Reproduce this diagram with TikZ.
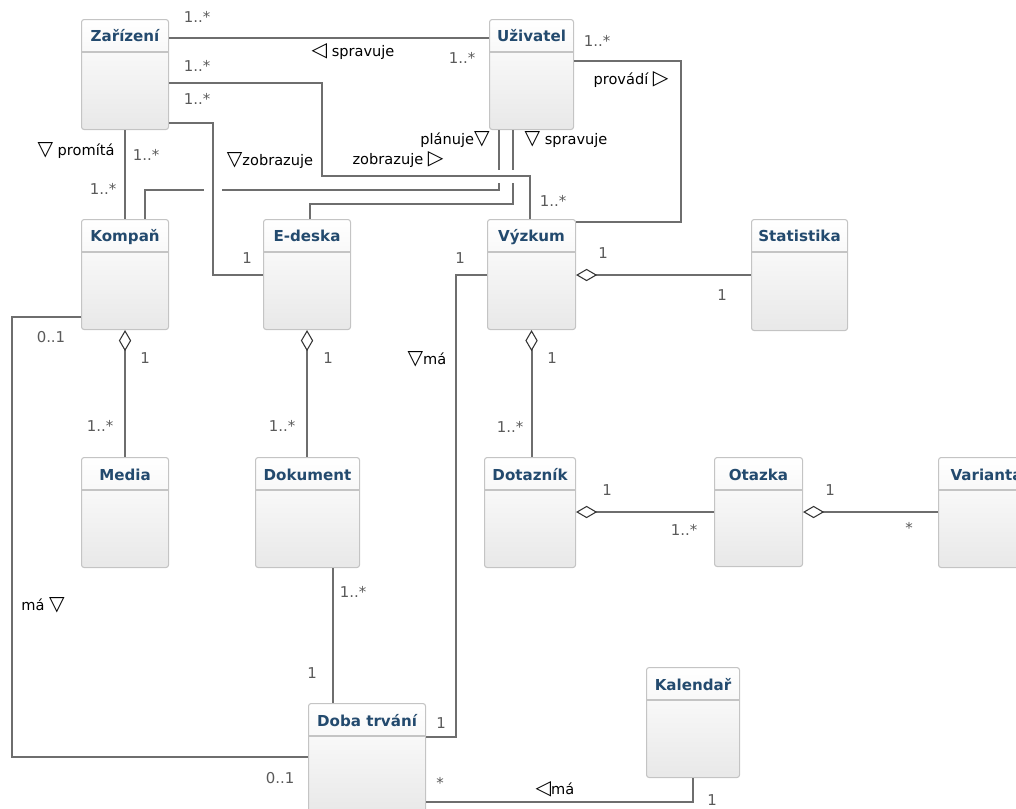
\documentclass[tikz,border=0pt]{standalone}
\usepackage{fontspec}
\setmainfont{DejaVu Sans}
\usetikzlibrary{arrows.meta}

\definecolor{titleblue}{HTML}{234A6E}
\definecolor{linegray}{HTML}{6E6E6E}
\definecolor{multgray}{HTML}{5A5A5A}
\definecolor{boxborder}{HTML}{C4C4C4}

\tikzset{
  classbox/.style={draw=boxborder, line width=0.6pt, rounded corners=1.5pt,
    top color=white, bottom color=black!9, inner sep=0pt, anchor=north west},
  classtitle/.style={font=\fontsize{8.6}{10}\selectfont\bfseries, text=titleblue, inner sep=0pt},
  assoc/.style={draw=linegray, line width=1.1pt},
  agg/.style={assoc, {Diamond[open, length=12pt, width=7pt, line width=0.6pt, color=black!80, fill=white]}-},
  overpass/.style={assoc, preaction={draw=white, line width=#1}},
  mult/.style={font=\fontsize{8.5}{10}\selectfont, text=multgray, inner sep=0pt},
  role/.style={font=\fontsize{8.3}{10}\selectfont, inner sep=0pt},
}

% class box: name, x, y, width, height, title (pixels)
\newcommand{\umlclass}[6]{%
  \node[classbox, minimum width=#4*0.02cm, minimum height=#5*0.02cm] (#1) at (#2,#3) {};
  \node[classtitle, anchor=base] (#1-t) at ([yshift=-0.46cm]#1.north) {#6};
  \draw[boxborder, line width=0.6pt] ([yshift=-0.66cm]#1.north west) -- ([yshift=-0.66cm]#1.north east);
}
\newcommand{\dtri}{{\fontsize{11.5}{11}\selectfont ▽}}
\newcommand{\rtri}{{\fontsize{11.5}{11}\selectfont ▷}}
\newcommand{\ltri}{{\fontsize{11.5}{11}\selectfont ◁}}

\begin{document}
\begin{tikzpicture}[x=0.02cm,y=-0.02cm]
\useasboundingbox (0,0) rectangle (1016,808);

% classes
\umlclass{zar}{81}{19}{87}{110}{Zařízení}
\umlclass{uzi}{489}{19}{84}{110}{Uživatel}
\umlclass{kom}{81}{219}{87}{110}{Kompaň}
\umlclass{eds}{263}{219}{87}{110}{E-deska}
\umlclass{vyz}{487}{219}{88}{110}{Výzkum}
\umlclass{sta}{751}{219}{96}{111}{Statistika}
\umlclass{med}{81}{457}{87}{110}{Media}
\umlclass{dok}{255}{457}{104}{110}{Dokument}
\umlclass{dot}{484}{457}{91}{110}{Dotazník}
\umlclass{ota}{714}{457}{88}{109}{Otazka}
\umlclass{var}{938}{457}{96}{110}{Varianta}
\umlclass{dob}{308}{703}{117}{110}{Doba trvání}
\umlclass{kal}{646}{667}{93}{110}{Kalendař}

% associations
\draw[assoc] (zar.east |- 0,38) -- (uzi.west |- 0,38);
\draw[assoc] (zar.east |- 0,83) -| (322,176) -| (vyz.north -| 530,0);
\draw[assoc] (zar.east |- 0,123) -| (213,275) -- (eds.west |- 0,275);
\draw[assoc] (zar.south) -- (kom.north);
\draw[assoc] (uzi.south -| 499,0) |- (145,190) -- (kom.north -| 145,0);
\draw[assoc] (uzi.south -| 513,0) |- (310,204) -- (eds.north -| 310,0);
\draw[assoc] (uzi.east |- 0,61) -| (681,222) -- (vyz.east |- 0,222);
\draw[assoc] (vyz.west |- 0,275) -| (456,737) -- (dob.east |- 0,737);
\draw[assoc] (kom.west |- 0,317) -| (12,757) -- (dob.west |- 0,757);
\draw[assoc] (dok.south -| 333,0) -- (dob.north -| 333,0);
\draw[assoc] (dob.east |- 0,802) -| (kal.south);

% line jumps
\draw[overpass=0.36cm] (213,184) -- (213,196);
\draw[overpass=0.26cm] (492,176) -- (520,176);

% aggregations
\draw[agg] (vyz.east |- 0,275) -- (sta.west |- 0,275);
\draw[agg] (kom.south) -- (med.north);
\draw[agg] (eds.south) -- (eds.south |- dok.north);
\draw[agg] (vyz.south) -- (vyz.south |- dot.north);
\draw[agg] (dot.east |- 0,512) -- (ota.west |- 0,512);
\draw[agg] (ota.east |- 0,512) -- (var.west |- 0,512);

% labels
\node[mult] (m1) at (197,17) {1..*};
\node[role] (r1) at (353,52) {\ltri\ spravuje};
\node[mult] (m2) at (462,58) {1..*};
\node[mult] (m3) at (197,66) {1..*};
\node[mult] (m4) at (197,99) {1..*};
\node[role] (r2) at (76,151) {\dtri\ promítá};
\node[mult] (m5) at (146,155) {1..*};
\node[mult] (m6) at (103,189) {1..*};
\node[role] (r3) at (270,161) {\dtri zobrazuje};
\node[mult] (m7) at (247,258) {1};
\node[role] (r4) at (455,140) {plánuje\dtri};
\node[role] (r5) at (566,140) {\dtri\ spravuje};
\node[role] (r6) at (398,160) {zobrazuje \rtri};
\node[mult] (m8) at (553,201) {1..*};
\node[mult] (m9) at (597,41) {1..*};
\node[role] (r7) at (631,80) {provádí \rtri};
\node[mult] (m10) at (603,253) {1};
\node[mult] (m11) at (722,295) {1};
\node[mult] (m12) at (460,258) {1};
\node[mult] (m13) at (51,337) {0..1};
\node[mult] (m14) at (145,358) {1};
\node[mult] (m15) at (100,426) {1..*};
\node[mult] (m16) at (328,358) {1};
\node[mult] (m17) at (282,426) {1..*};
\node[role] (r8) at (427,359) {\dtri má};
\node[mult] (m18) at (552,358) {1};
\node[mult] (m19) at (510,427) {1..*};
\node[mult] (m20) at (607,490) {1};
\node[mult] (m21) at (684,530) {1..*};
\node[mult] (m22) at (830,490) {1};
\node[mult] (m23) at (909,528) {*};
\node[role] (r9) at (43,605) {má \dtri};
\node[mult] (m24) at (353,592) {1..*};
\node[mult] (m25) at (312,673) {1};
\node[mult] (m26) at (441,723) {1};
\node[mult] (m27) at (280,778) {0..1};
\node[mult] (m28) at (440,783) {*};
\node[role] (r10) at (555,789) {\ltri má};
\node[mult] (m29) at (712,800) {1};
\end{tikzpicture}
\end{document}
